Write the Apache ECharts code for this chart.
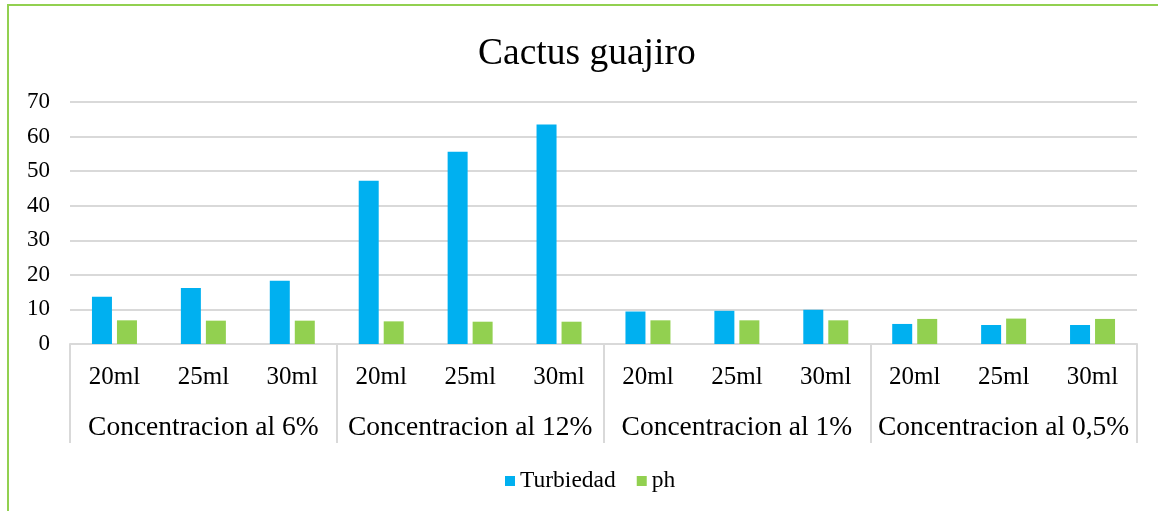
<!DOCTYPE html>
<html>
<head>
<meta charset="utf-8">
<script src="https://cdn.jsdelivr.net/npm/echarts@6/dist/echarts.min.js"></script>
<style>
  html, body { margin: 0; padding: 0; background: #fff; }
  #chart { width: 1158px; height: 511px; }
</style>
</head>
<body>
<div id="chart"></div>
<script>
const titleText = 'Cactus guajiro';
const volumes = ['20ml', '25ml', '30ml', '20ml', '25ml', '30ml', '20ml', '25ml', '30ml', '20ml', '25ml', '30ml'];
const groups = ['Concentracion al 6%', 'Concentracion al 12%', 'Concentracion al 1%', 'Concentracion al 0,5%'];
const turbiedad = [13.7, 16.2, 18.3, 47.2, 55.6, 63.5, 9.4, 9.6, 9.9, 5.8, 5.5, 5.5];
const ph = [6.85, 6.75, 6.75, 6.55, 6.45, 6.45, 6.85, 6.85, 6.85, 7.25, 7.35, 7.25];
const seriesNames = ['Turbiedad', 'ph'];

const FONT = '"Liberation Serif", "Times New Roman", serif';
const chart = echarts.init(document.getElementById('chart'));
chart.setOption({
  animation: false,
  backgroundColor: '#ffffff',
  title: {
    text: titleText,
    left: 473,
    top: 30,
    textStyle: { fontFamily: FONT, fontSize: 37.5, fontWeight: 'normal', color: '#000' }
  },
  legend: {
    top: 464,
    left: 500,
    icon: 'rect',
    itemWidth: 10,
    itemHeight: 10,
    itemGap: 21,
    data: seriesNames,
    textStyle: { fontFamily: FONT, fontSize: 23.5, color: '#000' }
  },
  grid: { left: 70, right: 21, top: 102, bottom: 167 },
  xAxis: [
    {
      type: 'category',
      data: volumes,
      axisLine: { show: true, lineStyle: { color: '#d9d9d9', width: 2 } },
      axisTick: { show: false },
      axisLabel: { fontFamily: FONT, fontSize: 25, color: '#000', margin: 21, interval: 0 }
    },
    {
      type: 'category',
      data: groups,
      position: 'bottom',
      axisLine: { show: false },
      axisTick: { show: true, length: 99, lineStyle: { color: '#d9d9d9', width: 2 } },
      axisLabel: { fontFamily: FONT, fontSize: 27.5, color: '#000', margin: 70, interval: 0 }
    }
  ],
  yAxis: {
    type: 'value',
    min: 0,
    max: 70,
    interval: 10,
    axisLine: { show: false },
    axisTick: { show: false },
    axisLabel: { fontFamily: FONT, fontSize: 23, color: '#000', margin: 20 },
    splitLine: { lineStyle: { color: '#d9d9d9', width: 2 } }
  },
  series: [
    {
      name: seriesNames[0],
      type: 'bar',
      data: turbiedad,
      barWidth: 20,
      barGap: '25%',
      itemStyle: { color: '#00B0F0' }
    },
    {
      name: seriesNames[1],
      type: 'bar',
      data: ph,
      barWidth: 20,
      barGap: '25%',
      itemStyle: { color: '#92D050' }
    }
  ],
  graphic: [
    {
      type: 'rect',
      shape: { x: 8, y: 5, width: 1300, height: 700 },
      style: { fill: 'none', stroke: '#92D050', lineWidth: 2 },
      silent: true,
      z: 100
    }
  ]
});
</script>
</body>
</html>
